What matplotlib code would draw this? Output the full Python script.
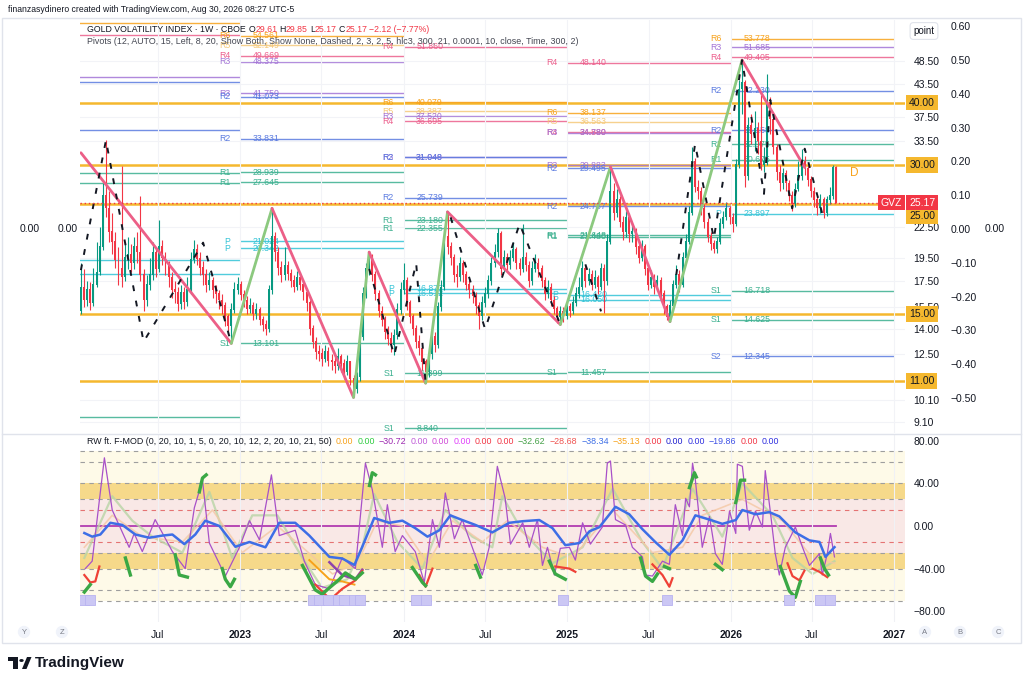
import matplotlib
matplotlib.use("Agg")
import matplotlib.pyplot as plt
import matplotlib.dates as mdates
from matplotlib.lines import Line2D
from matplotlib.patches import Rectangle, Circle, Polygon
from matplotlib.ticker import FixedLocator, FixedFormatter, NullLocator
import numpy as np
import pandas as pd

plt.rcParams["font.family"] = ["Liberation Sans", "DejaVu Sans"]

# ---- weekly GVZ candles ----
first_open = 15.2
closes = [
    17.0, 16.0, 16.8, 15.8, 17.2, 18.2, 20.5, 26.0, 24.5, 22.0,
    21.0, 19.3, 18.5, 17.8, 19.5, 19.8, 19.0, 20.5, 20.0, 18.0,
    16.0, 17.2, 18.0, 20.0, 18.5, 20.5, 19.5, 18.8, 17.8, 16.8,
    16.6, 15.7, 16.6, 15.9, 16.8, 19.3, 20.2, 19.4, 18.6, 18.0,
    17.2, 17.5, 16.8, 16.5, 16.0, 15.6, 14.8, 14.2, 15.3, 16.8,
    17.2, 16.4, 16.0, 15.4, 15.6, 15.0, 15.3, 14.6, 14.3, 14.0,
    16.8, 21.5, 20.0, 18.6, 18.0, 18.8, 18.1, 17.5, 17.0, 17.8,
    17.2, 16.6, 15.8, 14.0, 13.2, 12.6, 12.5, 12.2, 12.6, 12.1,
    12.0, 11.8, 12.3, 11.9, 11.5, 12.0, 11.1, 10.6, 11.2, 13.5,
    16.5, 18.5, 19.5, 18.0, 16.5, 15.2, 14.6, 13.8, 13.4, 13.0,
    13.6, 15.3, 16.8, 17.5, 15.8, 14.8, 14.0, 13.2, 12.8, 12.0,
    11.5, 12.5, 13.5, 13.0, 15.5, 17.0, 21.5, 20.5, 19.5, 18.0,
    17.8, 19.0, 18.0, 17.2, 16.8, 16.3, 15.6, 14.9, 15.8, 16.5,
    17.5, 19.0, 20.0, 21.8, 18.5, 19.5, 18.8, 19.5, 20.2, 19.0,
    18.5, 19.5, 18.8, 17.5, 18.5, 19.0, 18.5, 17.5, 16.5, 17.0,
    16.0, 15.4, 14.8, 15.2, 14.9, 15.5, 15.2, 15.8, 16.5, 17.0,
    18.5, 17.5, 18.0, 17.2, 17.8, 17.0, 18.5, 17.5, 21.0, 26.5,
    24.0, 25.5, 23.0, 22.0, 23.5, 21.8, 22.0, 20.5, 19.5, 20.5,
    18.5, 17.2, 17.8, 17.0, 17.5, 16.5, 15.5, 14.8, 15.6, 17.2,
    18.0, 17.2, 19.5, 21.0, 24.0, 30.5, 27.0, 26.5, 24.5, 23.0,
    21.5, 20.8, 20.3, 21.0, 22.8, 23.5, 24.5, 23.5, 22.8, 30.0,
    42.5, 44.0, 28.5, 36.0, 34.5, 35.5, 33.5, 30.0, 30.5, 40.0,
    37.0, 32.5, 29.0, 27.5, 28.8, 27.5, 26.0, 25.0, 26.8, 28.5,
    30.5, 29.5, 28.0, 26.5, 25.5, 24.5, 25.5, 24.0, 25.5, 26.0,
    29.61, 25.17,
]
highs = [
    19.0, 18.5, 17.5, 17.4, 18.6, 21.0, 22.5, 27.5, 33.6, 26.5,
    24.0, 22.0, 20.5, 29.8, 21.0, 21.5, 20.8, 21.5, 22.0, 26.0,
    18.5, 18.0, 19.5, 21.0, 20.5, 23.2, 21.2, 20.0, 19.2, 18.2,
    17.5, 17.0, 17.2, 17.0, 17.8, 20.0, 21.2, 20.8, 20.0, 19.2,
    18.5, 18.2, 17.8, 17.2, 16.8, 16.5, 15.9, 15.0, 15.8, 17.4,
    17.8, 17.5, 16.8, 16.3, 16.2, 15.9, 15.8, 15.5, 14.9, 14.6,
    17.2, 24.5, 22.0, 20.5, 19.2, 20.5, 19.2, 18.5, 18.0, 18.3,
    18.2, 17.5, 16.9, 16.0, 14.3, 13.5, 13.0, 12.8, 13.0, 12.9,
    12.5, 12.3, 12.8, 12.5, 12.2, 12.4, 12.1, 11.3, 11.5, 13.9,
    17.0, 19.0, 20.0, 19.8, 18.3, 16.8, 15.6, 14.9, 14.2, 13.8,
    14.0, 15.8, 17.4, 19.0, 17.8, 16.0, 15.0, 14.3, 13.6, 13.0,
    12.2, 12.8, 13.9, 13.8, 15.9, 17.6, 22.5, 24.1, 21.0, 19.8,
    18.8, 19.6, 19.3, 18.3, 17.6, 17.2, 16.6, 15.9, 16.3, 17.0,
    18.0, 19.6, 20.8, 22.4, 22.1, 20.2, 19.9, 20.2, 21.0, 20.5,
    19.5, 22.8, 20.0, 19.2, 19.2, 19.8, 19.5, 18.8, 17.8, 17.6,
    17.3, 16.3, 15.6, 15.6, 15.5, 15.9, 15.8, 16.3, 17.0, 17.8,
    19.2, 18.8, 18.6, 18.4, 18.4, 18.0, 19.0, 18.9, 21.8, 29.7,
    27.5, 26.8, 26.0, 23.6, 24.2, 24.0, 22.8, 22.4, 21.0, 21.2,
    20.8, 18.8, 18.4, 18.1, 18.0, 17.8, 16.8, 15.7, 16.0, 17.6,
    18.8, 18.4, 20.0, 21.8, 24.8, 32.6, 31.0, 28.0, 27.0, 25.0,
    23.4, 22.0, 21.2, 21.5, 23.4, 24.2, 25.2, 24.8, 24.0, 30.8,
    44.5, 48.7, 44.5, 37.5, 38.0, 38.5, 36.5, 41.5, 32.5, 45.6,
    41.0, 37.5, 33.0, 30.0, 29.5, 29.2, 28.0, 26.5, 27.5, 30.5,
    32.3, 31.2, 30.0, 28.5, 27.0, 26.0, 26.2, 25.8, 26.0, 27.0,
    30.0, 29.85,
]
lows = [
    15.0, 15.5, 15.6, 15.3, 15.6, 17.0, 18.0, 20.2, 23.5, 21.0,
    19.8, 18.6, 17.2, 17.0, 17.5, 18.5, 18.2, 18.5, 19.0, 17.5,
    15.2, 15.6, 16.8, 17.6, 17.8, 18.2, 18.8, 18.0, 17.0, 16.2,
    15.8, 15.2, 15.4, 15.4, 15.6, 16.5, 19.0, 18.8, 18.0, 17.2,
    16.6, 16.8, 16.2, 15.8, 15.4, 15.0, 14.2, 13.6, 13.1, 15.1,
    16.5, 16.0, 15.5, 15.0, 15.1, 14.6, 14.7, 14.3, 13.9, 13.6,
    13.8, 16.5, 19.2, 18.0, 17.4, 17.6, 17.6, 17.0, 16.6, 16.8,
    16.8, 16.0, 15.2, 13.6, 12.8, 12.2, 12.1, 11.8, 12.0, 11.8,
    11.6, 11.4, 11.6, 11.5, 11.1, 11.3, 10.8, 10.2, 10.4, 11.0,
    13.3, 16.2, 18.0, 17.5, 16.0, 14.8, 14.2, 13.4, 13.0, 12.6,
    12.4, 13.4, 15.0, 16.5, 15.3, 14.4, 13.6, 12.8, 12.4, 11.6,
    10.9, 11.2, 12.2, 12.6, 12.8, 15.2, 16.8, 19.8, 18.8, 17.4,
    17.0, 17.5, 17.4, 16.8, 16.2, 15.8, 15.0, 14.0, 14.6, 15.5,
    16.2, 17.2, 18.7, 19.6, 18.0, 18.2, 18.3, 18.5, 19.2, 18.5,
    18.0, 18.2, 18.3, 17.0, 17.2, 18.2, 17.8, 17.0, 16.0, 16.2,
    15.6, 15.0, 14.4, 14.3, 14.5, 14.7, 14.8, 15.0, 15.6, 16.2,
    16.8, 17.0, 17.2, 16.8, 16.9, 16.5, 16.8, 15.1, 17.2, 20.8,
    23.2, 23.5, 22.5, 21.2, 21.5, 21.0, 21.0, 19.8, 19.0, 19.2,
    18.0, 16.8, 16.9, 16.5, 16.7, 16.0, 15.0, 14.6, 14.5, 15.4,
    16.9, 16.6, 17.0, 19.2, 20.8, 23.8, 26.4, 25.6, 23.8, 22.4,
    21.0, 20.2, 19.9, 19.9, 20.8, 22.4, 23.2, 22.8, 22.0, 22.6,
    29.6, 38.0, 27.0, 28.0, 33.0, 32.0, 31.5, 29.2, 29.0, 30.0,
    34.5, 31.5, 28.0, 26.5, 26.8, 26.6, 25.3, 24.2, 24.6, 26.5,
    28.0, 28.6, 27.2, 25.8, 24.6, 23.8, 24.0, 23.4, 23.6, 25.0,
    25.6, 25.17,
]
last_price = 25.17

# zigzag swings (week number, price)
zz_week = [0, 48, 61, 87, 92, 110, 117, 153, 169, 188, 211, 231]
zz_price = [31.7, 13.1, 24.5, 10.2, 20.0, 10.9, 24.1, 14.3, 29.7, 14.5, 48.7, 29.6]

# dashed minor zigzag, broken into runs
dash_runs = [
    ([0, 8, 20, 39, 48], [18.4, 33.6, 13.2, 20.9, 13.1]),
    ([92, 100, 107, 110], [18.5, 12.4, 19.0, 10.9]),
    ([118, 129, 140, 153], [23.5, 14.0, 22.8, 14.3]),
    ([161, 166], [18.9, 15.2]),
    ([190, 196, 202, 211, 218, 220, 227, 231, 237], [18.0, 33.0, 21.3, 48.7, 26.2, 40.5, 24.5, 32.3, 23.4]),
]

# horizontal levels (yellow)
key_levels = [40.0, 30.0, 25.0, 15.0, 11.0]

# yearly pivot levels
piv_years = ["2022-01-01", "2023-01-01", "2024-01-01", "2025-01-01", "2026-01-01", "2027-01-01"]
piv_2022 = [("R6", 57.9), ("R4", 54.6), ("R3", 45.0), ("R2", 44.0), ("R2", 35.2), ("R1", 28.9),
            ("R1", 27.6), ("P", 19.3), ("P", 18.1), ("S1", 9.3)]
piv_2023 = [("R6", 54.561), ("R5", 52.149), ("R4", 49.669), ("R3", 48.375), ("R3", 41.750),
            ("R2", 41.073), ("R2", 33.831), ("R1", 28.939), ("R1", 27.645), ("P", 21.024),
            ("P", 20.342), ("S1", 13.101)]
piv_2024 = [("R4", 51.860), ("R6", 40.079), ("R5", 38.387), ("R3", 37.520), ("R4", 36.695),
            ("R3", 31.040), ("R2", 31.048), ("R2", 25.739), ("R1", 23.180), ("R1", 22.355),
            ("P", 16.877), ("P", 16.512), ("S1", 11.399), ("S1", 8.840)]
piv_2025 = [("R4", 48.140), ("R6", 38.137), ("R5", 36.563), ("R4", 34.880), ("R3", 34.780),
            ("R3", 29.883), ("R2", 29.495), ("R2", 24.737), ("R1", 21.648), ("R1", 21.480),
            ("P", 16.420), ("P", 16.050), ("S1", 11.457)]
piv_2026 = [("R6", 53.778), ("R3", 51.685), ("R4", 49.405), ("R2", 42.230), ("R2", 35.158),
            ("R1", 32.975), ("R1", 30.675), ("P", 23.897), ("S1", 16.718), ("S1", 14.625),
            ("S2", 12.345)]
piv_sets = [piv_2022, piv_2023, piv_2024, piv_2025, piv_2026]

price_ticks = [48.5, 43.5, 37.5, 33.5, 22.5, 19.5, 17.5, 15.5, 14.0, 12.5, 10.1, 9.1]
sec_ticks = [0.6, 0.5, 0.4, 0.3, 0.2, 0.1, 0.0, -0.1, -0.2, -0.3, -0.4, -0.5]

# ---- oscillator pane (week number, value) ----
osc_raw_week = [1.4, 3.6, 7.5, 10, 15.4, 17, 19.6, 23.7, 29.2, 33.3, 36.2, 38.8, 41, 46.1, 50.6,
                53.8, 57, 60.8, 63.3, 68.4, 71.3, 74.8, 79.3, 83.4, 87.6, 90.8, 93, 96.2, 97.8,
                100.3, 102.6, 106.7, 109.6, 112.2, 114.4, 116.3, 119.2, 121.7, 128.1, 130.3,
                132.9, 135.4, 137.1, 141, 143.1, 145.7, 147.3, 148.9, 151.1, 153, 155.9, 157.8,
                160.1, 162.6, 166.4, 168, 169, 170.6, 173.8, 176, 179.2, 180.2, 182.4, 185.6,
                187.8, 189.7, 192, 193, 194.2, 195.2, 196.1, 198.3, 200.6, 202.5, 204.7, 207,
                209, 209.5, 211.1, 213.3, 215.3, 217.5, 218.4, 220, 221.6, 222.9, 224.8, 228,
                230.3, 232.5, 235.7, 236.6, 238.2, 239.2, 240.5]
osc_raw = [-40, -33, 64, 15, -20, -7, -24, 6, -24, -40, 17, 43, -16, -47, -20, 5, -13, 48, -9, -4,
           -33, -55, -59, -30, -40, 59, 34, -20, 20, -24, -9, -24, -53, 6, -20, 31, -12, 6, -46,
           -20, 56, 26, -17, 3, -20, 6, -37, -20, -46, -21, -20, -32, 3, -17, -1, 59, 61, 6, 1,
           -20, -29, -46, -47, -33, -36, 20, -9, 26, 18, 59, 43, -20, 9, -26, -36, 14, -7, 58, 56,
           -4, 14, -1, 52, 14, -26, -46, -20, -1, -20, -37, -26, -46, -26, -7, -29]
osc_smooth_week = [1.1, 3.6, 6.2, 9.4, 13.2, 17.4, 21.8, 26, 29.2, 33, 36.5, 39.7, 44.2, 49.3,
                   53.8, 58.9, 63.3, 68.4, 72.9, 79.3, 83.4, 87.3, 89.8, 93.6, 98.4, 102.6, 106.7,
                   110.6, 114.4, 117.9, 121.7, 125.9, 131.3, 136.7, 141, 146.3, 150.5, 154.6,
                   159.1, 162.3, 165.5, 170.6, 175, 179.2, 183.3, 187.8, 192, 196.1, 200.6, 204.7,
                   209, 211.1, 215.3, 219.7, 222.9, 228, 232.5, 235.7, 237.6, 240.5]
osc_smooth = [-6.6, -10, -8, 3, 1, -8, -11, -9, -8, -17, -8, 5, 0, -19.5, -15, -20, 3, 3, -9, -29,
              -30.5, -36.6, -19.5, 7.5, 3, 5, -2, -10, -4, 10, 5.6, 1, -6, 3, 4.5, 5.6, -2, -18,
              -16, -5, -1, 18, 11, -3, -15, -27, -13.5, 10, 6, 2, 5.6, 15, 11, 13, 9, -6, -13.5,
              -15, -29, -19.86]
pale_green_week = [1.1, 10, 16.4, 22.8, 32.4, 41, 48.3, 54.7, 62.7, 70.7, 77, 85, 89.8, 93.6, 101,
                   109, 116.3, 124.9, 131.3, 134.5, 140.9, 150.5, 160.1, 169.7, 179.2, 185.6,
                   195.2, 204.7, 211.1, 220.7, 227.1, 233.5, 240.5]
pale_green = [-30, 28, 5, -10, -25, 32, -30, 10, 10, -30, -58, -50, -20, 30, -15, -40, 15, -10,
              -20, 28, -5, -35, -20, 35, -15, -40, 35, -10, 40, 10, -30, -45, -33]
pale_orange_week = [1.1, 10, 19.6, 32.4, 42, 51.5, 62.7, 70.7, 80.3, 88.2, 94.6, 102.6, 110.6,
                    118.6, 128.1, 136.1, 147.3, 156.9, 169.7, 182.4, 192, 198.3, 211.1, 223.9,
                    233.5, 240.5]
pale_orange = [-20, 10, -10, -15, 15, -25, 0, -20, -45, -35, 5, 0, -35, 5, -15, 5, -20, -30, 15,
               -25, -20, 10, 25, 5, -30, -35]
green_runs = [
    ([1.1, 3], [-62, -55]),
    ([14.2, 15.8], [-30, -46]),
    ([30.1, 31.4, 34], [-27, -46, -48]),
    ([37.8, 38.8, 40], [32, 45, 48]),
    ([45.1, 46.1, 47.7, 49], [-40, -50, -57, -50]),
    ([70.7, 74.8, 77, 79.3, 82.5, 84.4, 87.6, 89.8], [-37, -60, -64, -58, -50, -44, -50, -44]),
    ([92.1, 93, 94], [38, 50, 48]),
    ([105.8, 109, 110], [-39, -53, -56]),
    ([126, 127.5], [-37, -48]),
    ([149.5, 151.4, 154.6], [-33, -45, -50]),
    ([178.6, 180.2, 182.4, 184], [-30, -47, -52, -45]),
    ([186.2, 187.8], [-38, -40]),
    ([194.2, 195.8, 196.4], [36, 50, 46]),
    ([202.5, 204.7], [-36, -41]),
    ([209, 210.5, 211.8], [22, 43, 43]),
    ([223.2, 226.1, 228, 229.6], [-38, -61, -67, -52]),
    ([236, 237.3, 238.6], [-30, -40, -46]),
]
red_runs = [
    ([1.1, 3, 4.6, 5.9], [-46, -53, -52, -38]),
    ([74.8, 79.6, 83.4, 87.6, 89.8], [-55, -69, -59, -51, -42]),
    ([108, 110, 112.2], [-46, -57, -40]),
    ([151.4, 155.9, 157.8], [-38, -40, -43]),
    ([182.4, 185.6, 187.8, 188.8], [-36, -46, -57, -49]),
    ([225.5, 227.1, 229.3, 230.9], [-35, -47, -51, -42]),
    ([233.5, 235.7, 238.2], [-40, -43, -48]),
]
orange_runs = [([72.9, 79.3, 83.4, 87.3], [-32, -50, -52, -55])]
violet_runs = [([79.3, 83.4, 87.6, 89.8], [-34, -46, -50, -41])]
marker_weeks = [1, 3, 74, 76, 79, 82, 84, 87, 89, 107, 110, 154, 187, 226, 236, 239]
osc_dashed = [70, 60, 40, 25, -25, -40, -60, -70]
osc_pink_dashed = [15, -15]
osc_ticks = [80, 40, 0, -40, -80]

x_tick_dates = ["2022-07-01", "2023-01-01", "2023-07-01", "2024-01-01", "2024-07-01",
                "2025-01-01", "2025-07-01", "2026-01-01", "2026-07-01", "2027-01-01"]
x_tick_labels = ["Jul", "2023", "Jul", "2024", "Jul", "2025", "Jul", "2026", "Jul", "2027"]

# ---- colours ----
UP, DN = "#089981", "#f23645"
TXT = "#131722"
GOLD = "#f5b82e"
piv_colors = {"R6": "#f7a21b", "R5": "#f5c97a", "R4": "#ec5f8c", "R3": "#a374d6",
              "R2": "#5b7be0", "R1": "#3bb08f", "P": "#33c3d6", "S1": "#3bb08f", "S2": "#5b7be0"}

W, H = 1024, 685
fig = plt.figure(figsize=(W / 100, H / 100), dpi=100)


def box(x0, y0, x1, y1):
    return [x0 / W, 1 - y1 / H, (x1 - x0) / W, (y1 - y0) / H]


def fx(x):
    return x / W


def fy(y):
    return 1 - y / H


ax = fig.add_axes(box(80, 20, 905, 433))
ax2 = fig.add_axes(box(80, 435, 905, 622), sharex=ax)
axs = ax.twinx()

weeks = pd.date_range(end="2026-08-24", periods=len(closes), freq="W-MON")
xw = mdates.date2num(weeks)
d0 = xw[0]


def wk(w):
    return d0 + 7 * np.asarray(w, dtype=float)


opens = [first_open] + closes[:-1]
o = np.array(opens)
c = np.array(closes)
cols = np.where(c >= o, UP, DN)

ax.set_yscale("log")
ax.set_ylim(8.65, 58.65)
ax.set_xlim(mdates.date2num(pd.Timestamp("2022-01-08")), mdates.date2num(pd.Timestamp("2027-01-25")))

# yellow key levels
for lv in key_levels:
    ax.axhline(lv, color=GOLD, lw=1.8, zorder=1.2)

# pivots
starts = mdates.date2num(pd.to_datetime(piv_years))
for k, levels in enumerate(piv_sets):
    s, e = starts[k], starts[k + 1]
    for lab, v in levels:
        col = piv_colors[lab]
        ax.hlines(v, s, e, color=col, lw=1.0, alpha=0.85, zorder=1.5)
        if s >= ax.get_xlim()[0]:
            ax.annotate(lab, xy=(s, v), xytext=(-7, 0), textcoords="offset points", ha="right",
                        va="center", fontsize=6.3, color=col, zorder=2)
            ax.annotate(f"{v:.3f}", xy=(s, v), xytext=(9, 0), textcoords="offset points", ha="left",
                        va="center", fontsize=6.3, color=col, zorder=2)

# candles
ax.vlines(xw, lows, highs, colors=cols, lw=0.8, zorder=3)
ax.bar(xw, np.abs(c - o) + 0.05, bottom=np.minimum(o, c), width=4.3, color=cols, lw=0, zorder=3.2)

# zigzags
zx = wk(zz_week)
for i in range(len(zz_week) - 1):
    col = "#ec5f87" if zz_price[i + 1] < zz_price[i] else "#8cc97f"
    ax.plot(zx[i:i + 2], zz_price[i:i + 2], color=col, lw=2.0, zorder=4, solid_capstyle="round")
for wks, pr in dash_runs:
    ax.plot(wk(wks), pr, color="#131722", lw=1.4, ls=(0, (3, 5)), zorder=4.2)

# current price
ax.axhline(last_price, color=DN, lw=1.0, ls=(0, (1, 2)), zorder=4.5)
ax.annotate("D", xy=(xw[-1], 28.8), xytext=(10, 0), textcoords="offset points", color="#f7a21b",
            fontsize=8.5, ha="left", va="center")

# price axis (twinx moved the ticks left, so put them back)
ax.yaxis.tick_right()
ax.yaxis.set_label_position("right")
ax.yaxis.set_major_locator(FixedLocator(price_ticks))
ax.yaxis.set_major_formatter(FixedFormatter([f"{t:.2f}" for t in price_ticks]))
ax.yaxis.set_minor_locator(NullLocator())
ax.tick_params(axis="y", which="both", length=0, pad=6, labelsize=7.5, labelcolor=TXT,
               left=False, labelleft=False, right=True, labelright=True)
ax.tick_params(axis="x", length=0, labelbottom=False)
ax.grid(True, color="#f2f3f7", lw=0.8, zorder=0)
for sp in ax.spines.values():
    sp.set_visible(False)

# tags on price axis
tag_off = {25.0: -9}
for lv in key_levels:
    ax.annotate(f"{lv:.2f}", xy=(1, lv), xycoords=ax.get_yaxis_transform(),
                xytext=(3, tag_off.get(lv, 0)), textcoords="offset points", ha="left", va="center",
                fontsize=7.5, color=TXT, annotation_clip=False, zorder=6,
                bbox=dict(boxstyle="square,pad=0.28", fc=GOLD, ec="none"))
ax.annotate(f"{last_price:.2f}", xy=(1, last_price), xycoords=ax.get_yaxis_transform(),
            xytext=(3, 0), textcoords="offset points", ha="left", va="center", fontsize=7.5,
            color="white", annotation_clip=False, zorder=7,
            bbox=dict(boxstyle="square,pad=0.28", fc=DN, ec="none"))
ax.annotate("GVZ", xy=(1, last_price), xycoords=ax.get_yaxis_transform(),
            xytext=(-2, 0), textcoords="offset points", ha="right", va="center", fontsize=7.5,
            color="white", annotation_clip=False, zorder=7,
            bbox=dict(boxstyle="square,pad=0.28", fc=DN, ec="none"))

# secondary scale
axs.set_ylim(-0.6036, 0.618)
axs.yaxis.set_major_locator(FixedLocator(sec_ticks))
axs.yaxis.set_major_formatter(FixedFormatter([f"{t:.2f}".replace("-", "\u2212") for t in sec_ticks]))
axs.tick_params(axis="y", length=0, pad=33, labelsize=7.5, labelcolor=TXT)
for sp in axs.spines.values():
    sp.set_visible(False)
zero_y = H - axs.transData.transform((0, 0))[1]
for xpx in [30, 68, 995]:
    fig.text(fx(xpx), fy(zero_y), "0.00", fontsize=7.5, color=TXT, ha="center", va="center")

# ---- oscillator pane ----
ax2.set_ylim(-90.1, 85.4)
ax2.axhspan(-70, 70, color="#fefae8", lw=0, zorder=0)
ax2.axhspan(-25, 25, color="#f9e8e6", lw=0, zorder=0.1)
ax2.axhspan(25, 40, color="#f6d98a", lw=0, zorder=0.1)
ax2.axhspan(-40, -25, color="#f6d98a", lw=0, zorder=0.1)
for lv in osc_dashed:
    ax2.axhline(lv, color="#9e9e9e", lw=0.8, ls=(0, (4, 4)), zorder=0.5)
for lv in osc_pink_dashed:
    ax2.axhline(lv, color="#e57373", lw=0.8, ls=(0, (4, 4)), zorder=0.5)
ax2.plot([xw[0], xw[-1]], [0, 0], color="#b23bb0", lw=1.3, zorder=1)
ax2.plot(wk(pale_green_week), pale_green, color="#b8d4a6", lw=1.6, alpha=0.8, zorder=1.5)
ax2.plot(wk(pale_orange_week), pale_orange, color="#f4c8a4", lw=1.2, alpha=0.8, zorder=1.5)
ax2.plot(wk(osc_raw_week), osc_raw, color="#a850c8", lw=0.9, zorder=2)
ax2.plot(wk(osc_smooth_week), osc_smooth, color="#3d6ee6", lw=1.8, zorder=3)
for wks, vals in orange_runs:
    ax2.plot(wk(wks), vals, color="#f7a21b", lw=1.4, zorder=3.5)
for wks, vals in violet_runs:
    ax2.plot(wk(wks), vals, color="#8e44ad", lw=1.8, zorder=3.5)
for wks, vals in red_runs:
    ax2.plot(wk(wks), vals, color="#ef4136", lw=1.6, zorder=3.6)
for wks, vals in green_runs:
    ax2.plot(wk(wks), vals, color="#3aa845", lw=2.4, zorder=3.7)
ax2.scatter(wk(marker_weeks), [-69] * len(marker_weeks), marker="s", s=50, c="#cbc7f4",
            edgecolors="#b8b3f0", lw=0.6, zorder=4)

ax2.yaxis.tick_right()
ax2.yaxis.set_major_locator(FixedLocator(osc_ticks))
ax2.yaxis.set_major_formatter(FixedFormatter([f"{t:.2f}".replace("-", "\u2212") for t in osc_ticks]))
ax2.tick_params(axis="y", length=0, pad=6, labelsize=7.5, labelcolor=TXT)
tick_x = mdates.date2num(pd.to_datetime(x_tick_dates))
ax2.xaxis.set_major_locator(FixedLocator(tick_x))
ax2.xaxis.set_major_formatter(FixedFormatter(x_tick_labels))
ax2.tick_params(axis="x", length=0, pad=6, labelsize=7.5, labelcolor=TXT)
for lab in ax2.get_xticklabels():
    if lab.get_text().isdigit():
        lab.set_fontweight("bold")
ax2.grid(True, axis="x", color="#f0f1f5", lw=0.8, zorder=0.2)
for sp in ax2.spines.values():
    sp.set_visible(False)

# ---- frame, header, legends ----
fig.add_artist(Rectangle((fx(2), fy(643)), fx(1019), 625 / H, fill=False, ec="#e0e3eb", lw=1,
                         transform=fig.transFigure))
fig.add_artist(Line2D([fx(2), fx(1021)], [fy(434), fy(434)], color="#e0e3eb", lw=1))
fig.text(fx(8), fy(10), "finanzasydinero created with TradingView.com, Aug 30, 2026 08:27 UTC-5",
         fontsize=6.2, color=TXT, va="center")
fig.text(fx(924), fy(31), "point", fontsize=7, color=TXT, ha="center", va="center",
         bbox=dict(boxstyle="round,pad=0.35", fc="white", ec="#e0e3eb", lw=0.8))

renderer = fig.canvas.get_renderer()


def runs_text(x, y, runs, size):
    for txt, col, gap in runs:
        t = fig.text(fx(x), fy(y), txt, fontsize=size, color=col, va="center", ha="left", zorder=8)
        x += t.get_window_extent(renderer).width + gap


runs_text(87, 29, [("GOLD VOLATILITY INDEX \u00b7 1W \u00b7 CBOE", TXT, 3), ("O", TXT, 0),
                   ("29.61", DN, 2), ("H", TXT, 0), ("29.85", DN, 2), ("L", TXT, 0),
                   ("25.17", DN, 2), ("C", TXT, 0), ("25.17", DN, 2),
                   ("\u22122.12 (\u22127.77%)", DN, 0)], 6.3)
runs_text(87, 41, [("Pivots (12, AUTO, 15, Left, 8, 20, Show Both, Show None, Dashed, 2, 3, 2, 5, "
                    "hlc3, 300, 21, 0.0001, 10, close, Time, 300, 2)", "#434651", 0)], 6.4)
osc_legend = [("0.00", "#f7a21b"), ("0.00", "#2ecc40"), ("\u221230.72", "#9c27b0"),
              ("0.00", "#c05bd8"), ("0.00", "#d04bd8"), ("0.00", "#e040fb"), ("0.00", "#f23645"),
              ("0.00", "#f23645"), ("\u221232.62", "#43a047"), ("\u221228.68", "#ef5350"),
              ("\u221238.34", "#3d6ee6"), ("\u221235.13", "#f7a21b"), ("0.00", "#f23645"),
              ("0.00", "#2020d0"), ("0.00", "#3030e0"), ("\u221219.86", "#3d50e6"),
              ("0.00", "#f23645"), ("0.00", "#3030e0")]
runs_text(87, 442, [("RW ft. F-MOD (0, 20, 10, 1, 5, 0, 20, 10, 12, 2, 20, 10, 21, 50)", TXT, 4)]
          + [(t, col, 4) for t, col in osc_legend], 6.4)

for lab, xpx in [("Y", 24), ("Z", 62), ("A", 925), ("B", 960), ("C", 998)]:
    fig.text(fx(xpx), fy(632), lab, fontsize=5.5, color="#787b86", ha="center", va="center",
             bbox=dict(boxstyle="circle,pad=0.35", fc="#f0f3fa", ec="none"))

# TradingView logo
logo = [Rectangle((fx(8), fy(661)), 10 / W, 4 / H), Rectangle((fx(13), fy(669)), 5 / W, 12 / H),
        Circle((fx(21.5), fy(660.5)), 2.2 / W),
        Polygon([(fx(22), fy(669)), (fx(27), fy(657)), (fx(31.5), fy(657)), (fx(26.5), fy(669))])]
for p in logo:
    p.set_transform(fig.transFigure)
    p.set_facecolor(TXT)
    p.set_edgecolor("none")
    fig.add_artist(p)
fig.text(fx(35), fy(663), "TradingView", fontsize=11, fontweight="bold", color=TXT, va="center")

fig.savefig("out.png", dpi=100)
